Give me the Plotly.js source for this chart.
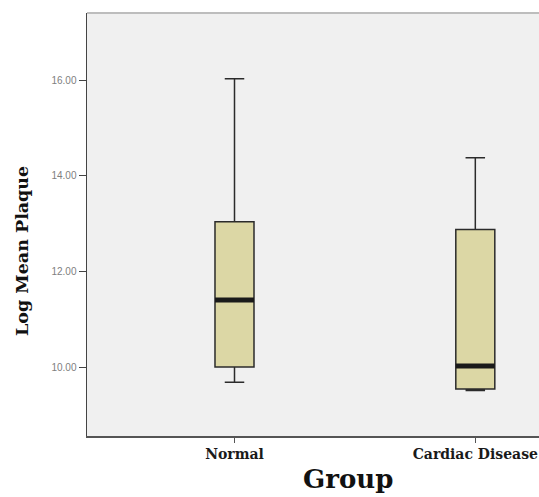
<!DOCTYPE html>
<html>
<head>
<meta charset="utf-8">
<script src="https://cdn.plot.ly/plotly-3.0.1.min.js"></script>
<style>html,body{margin:0;padding:0;background:#fff;}#chart{width:539px;height:497px;}</style>
</head>
<body>
<div id="chart"></div>
<script>
// Data
var groups = ["Normal", "Cardiac Disease"];
var upperWhisker = [16.03, 14.38];
var q3 = [13.04, 12.88];
var medians = [11.41, 10.03];
var q1 = [10.01, 9.55];
var lowerWhisker = [9.69, 9.52];
var yTicks = [10, 12, 14, 16];
var yTickLabels = ["10.00", "12.00", "14.00", "16.00"];

var boxWidth = 0.162;
var traces = groups.map(function (g, i) {
  return {
    type: "box",
    x: [g],
    q1: [q1[i]],
    median: [medians[i]],
    q3: [q3[i]],
    lowerfence: [lowerWhisker[i]],
    upperfence: [upperWhisker[i]],
    width: boxWidth,
    whiskerwidth: 0.5,
    fillcolor: "#dcd7a5",
    line: { color: "#2b2b2b", width: 1.5 },
    boxpoints: false,
    hoverinfo: "skip",
    showlegend: false
  };
});

var shapes = medians.map(function (m, i) {
  return {
    type: "line", xref: "x", yref: "y",
    x0: i - boxWidth / 2, x1: i + boxWidth / 2, y0: m, y1: m,
    line: { color: "#1a1a1a", width: 5 },
    layer: "above"
  };
});
shapes.push({
  type: "line", xref: "paper", yref: "paper", x0: 0, x1: 1, y0: 1, y1: 1,
  line: { color: "#bdbdbd", width: 2 }
});

var layout = {
  width: 539, height: 497,
  margin: { l: 87, r: 0, t: 13, b: 61, pad: 0 },
  paper_bgcolor: "#ffffff",
  plot_bgcolor: "#f0f0f0",
  showlegend: false,
  xaxis: {
    type: "category",
    range: [-0.6125, 1.2645],
    showgrid: false, zeroline: false,
    showline: true, linecolor: "#555555", linewidth: 1.5,
    ticks: "outside", ticklen: 5, tickwidth: 1, tickcolor: "#555555",
    tickfont: { family: "DejaVu Serif", size: 14, color: "#1a1a1a", weight: "bold" },
    fixedrange: true
  },
  yaxis: {
    range: [8.57, 17.40],
    tickvals: yTicks, ticktext: yTickLabels,
    showgrid: false, zeroline: false,
    showline: true, linecolor: "#444444", linewidth: 1.5,
    ticks: "outside", ticklen: 7, tickwidth: 1, tickcolor: "#444444",
    tickfont: { family: "Liberation Sans", size: 10, color: "#808080" },
    fixedrange: true
  },
  shapes: shapes,
  annotations: [
    {
      text: "Group", xref: "paper", yref: "paper",
      x: (348 - 87) / 452, y: -(462 - 436) / 423,
      xanchor: "center", yanchor: "top", showarrow: false,
      font: { family: "DejaVu Serif", size: 26, color: "#111111", weight: "bold" }
    },
    {
      text: "Log Mean Plaque", xref: "paper", yref: "paper",
      x: (22 - 87) / 452, y: (436 - 251) / 423,
      xanchor: "center", yanchor: "middle", textangle: -90, showarrow: false,
      font: { family: "DejaVu Serif", size: 17.5, color: "#111111", weight: "bold" }
    }
  ]
};

Plotly.newPlot("chart", traces, layout, { displayModeBar: false, staticPlot: true });
</script>
</body>
</html>
